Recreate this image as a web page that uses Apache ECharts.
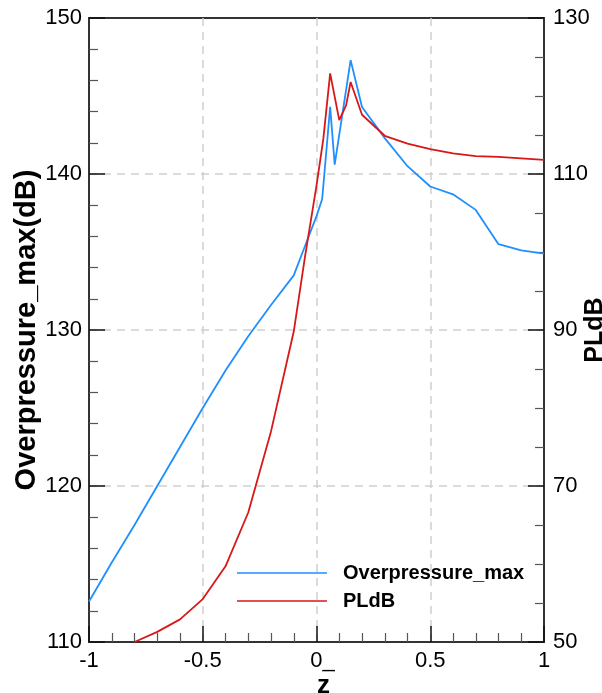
<!DOCTYPE html>
<html><head><meta charset="utf-8">
<script src="https://cdn.jsdelivr.net/npm/echarts@6/dist/echarts.min.js"></script>
<style>html,body{margin:0;padding:0;background:#fff}#c{width:602px;height:693px}</style>
</head><body><div id="c"></div>
<script>
const zBlue = [-1, -0.9, -0.8, -0.7, -0.6, -0.5, -0.4, -0.3, -0.2, -0.1, -0.05, 0, 0.025, 0.06, 0.08, 0.15, 0.2, 0.3, 0.4, 0.5, 0.6, 0.7, 0.8, 0.9, 1.0];
const overpressure = [112.6, 115.1, 117.5, 120.0, 122.5, 125.0, 127.4, 129.6, 131.6, 133.5, 135.4, 137.3, 138.4, 144.3, 140.6, 147.3, 144.3, 142.3, 140.5, 139.2, 138.7, 137.7, 135.5, 135.1, 134.9];
const zRed = [-0.8, -0.7, -0.6, -0.5, -0.4, -0.3, -0.2, -0.1, -0.05, 0, 0.03, 0.06, 0.1, 0.13, 0.15, 0.2, 0.3, 0.4, 0.5, 0.6, 0.7, 0.8, 0.9, 1.0];
const pldb = [50, 51.3, 52.9, 55.5, 59.7, 66.6, 77.0, 89.8, 99.5, 108.5, 114.5, 122.9, 116.9, 118.8, 121.8, 117.6, 114.9, 113.9, 113.2, 112.65, 112.3, 112.2, 112.0, 111.8];
const seriesNames = ['Overpressure_max', 'PLdB'];
const axisNames = {x: 'z', left: 'Overpressure_max(dB)', right: 'PLdB'};

const FONT = 'Liberation Sans, Arial, sans-serif';
const chart = echarts.init(document.getElementById('c'), null, {renderer: 'canvas'});
const pair = (xs, ys) => xs.map((x, i) => [x, ys[i]]);
const tickStyle = {
  nameMoveOverlap: false,
  axisLine: {show: true, onZero: false, lineStyle: {color: '#333', width: 2}},
  axisTick: {show: true, inside: true, length: 16, lineStyle: {color: '#111', width: 1.5}},
  minorTick: {show: true, length: 9, lineStyle: {color: '#555', width: 1.2}},
  axisLabel: {color: '#000', fontSize: 22, fontFamily: FONT},
  splitLine: {show: true, showMinLine: false, showMaxLine: false, lineStyle: {color: '#d0d0d0', width: 1.5, type: [8, 6]}}
};
chart.setOption({
  animation: false,
  backgroundColor: '#fff',
  grid: {left: 89, right: 58, top: 18, bottom: 51, containLabel: false, outerBoundsMode: 'none', show: true, borderColor: '#333', borderWidth: 2, backgroundColor: 'transparent'},
  legend: {
    orient: 'vertical', left: 237, top: 563, padding: 0, itemWidth: 90, itemHeight: 14, itemGap: 8,
    textStyle: {fontSize: 20, fontWeight: 'bold', fontFamily: FONT, color: '#000', lineHeight: 20, padding: [0, 0, 0, 11]},
    data: seriesNames.map(n => ({name: n, icon: 'path://M0,0 L90,0 L90,1.6 L0,1.6 Z'}))
  },
  xAxis: Object.assign({}, tickStyle, {
    type: 'value', min: -1, max: 1, interval: 0.5,
    name: axisNames.x, nameLocation: 'middle', nameGap: 31,
    nameTextStyle: {fontSize: 26, fontWeight: 'bold', fontFamily: FONT, color: '#000', padding: [0, 0, 0, 14]},
    minorTick: Object.assign({}, tickStyle.minorTick, {splitNumber: 5}),
    axisLabel: Object.assign({}, tickStyle.axisLabel, {
      margin: 8,
      formatter: v => v === 0 ? '{z|0_}' : String(v),
      rich: {z: {fontSize: 22, fontFamily: FONT, color: '#000', padding: [0, 0, 0, 12]}}
    })
  }),
  yAxis: [
    Object.assign({}, tickStyle, {
      type: 'value', min: 110, max: 150, interval: 10, position: 'left',
      name: axisNames.left, nameLocation: 'middle', nameGap: 48, nameRotate: 90,
      nameTextStyle: {fontSize: 29, fontWeight: 'bold', fontFamily: FONT, color: '#000'},
      minorTick: Object.assign({}, tickStyle.minorTick, {splitNumber: 5}),
      axisLabel: Object.assign({}, tickStyle.axisLabel, {margin: 7})
    }),
    Object.assign({}, tickStyle, {
      type: 'value', min: 50, max: 130, interval: 20, position: 'right',
      name: axisNames.right, nameLocation: 'middle', nameGap: 39, nameRotate: 90,
      nameTextStyle: {fontSize: 25, fontWeight: 'bold', fontFamily: FONT, color: '#000'},
      minorTick: Object.assign({}, tickStyle.minorTick, {splitNumber: 4}),
      splitLine: {show: false},
      axisLabel: Object.assign({}, tickStyle.axisLabel, {margin: 9})
    })
  ],
  series: [
    {name: seriesNames[0], type: 'line', yAxisIndex: 0, data: pair(zBlue, overpressure), symbol: 'none', lineStyle: {color: '#1f8fff', width: 1.8}, itemStyle: {color: '#1f8fff'}},
    {name: seriesNames[1], type: 'line', yAxisIndex: 1, data: pair(zRed, pldb), symbol: 'none', lineStyle: {color: '#d81818', width: 1.8}, itemStyle: {color: '#d81818'}}
  ]
});
</script></body></html>
